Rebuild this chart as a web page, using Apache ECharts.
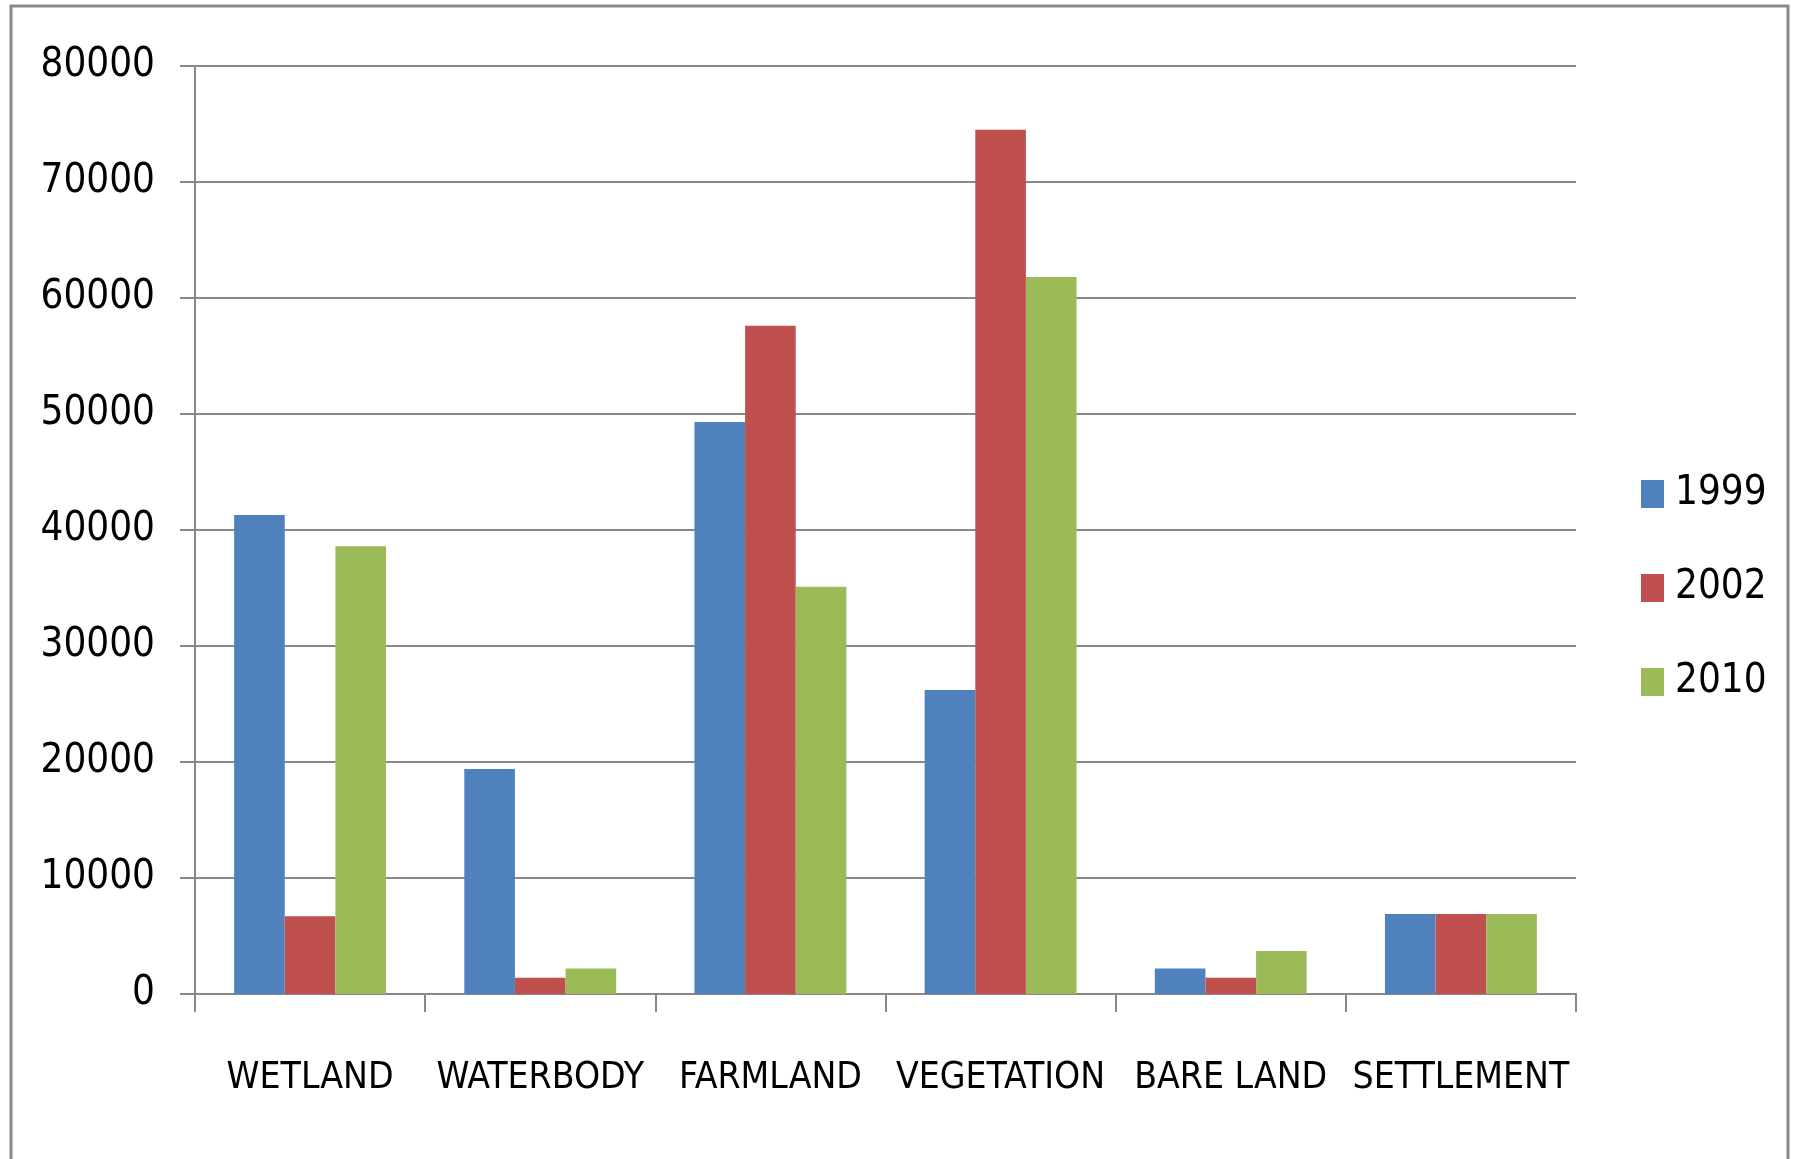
<!DOCTYPE html>
<html>
<head>
<meta charset="utf-8">
<script src="https://cdn.jsdelivr.net/npm/echarts@6/dist/echarts.min.js"></script>
<style>
  html, body { margin: 0; padding: 0; background: #fff; }
  #chart { width: 1803px; height: 1159px; }
</style>
</head>
<body>
<div id="chart"></div>
<script>
const categories = ['WETLAND', 'WATERBODY', 'FARMLAND', 'VEGETATION', 'BARE LAND', 'SETTLEMENT']
const years = ['1999', '2002', '2010']
const values1999 = [41300, 19400, 49300, 26200, 2200, 6900]
const values2002 = [6700, 1400, 57600, 74500, 1400, 6900]
const values2010 = [38600, 2200, 35100, 61800, 3700, 6900]
const yTicks = [0, 10000, 20000, 30000, 40000, 50000, 60000, 70000, 80000]

const colors = ['#4F81BD', '#C0504D', '#9BBB59']
const font = "'Liberation Sans Narrow', 'DejaVu Sans Condensed', sans-serif"
const seriesData = [values1999, values2002, values2010]

const chart = echarts.init(document.getElementById('chart'))
chart.setOption({
  animation: false,
  color: colors,
  textStyle: { fontFamily: font },
  graphic: [
    {
      // outer frame
      type: 'rect',
      shape: { x: 11, y: 6, width: 1777, height: 1200 },
      style: { fill: 'none', stroke: '#8a8a8a', lineWidth: 3 }
    }
  ],
  grid: {
    left: 195,
    top: 66,
    width: 1381,
    height: 928,
    containLabel: false
  },
  legend: {
    orient: 'vertical',
    left: 1641,
    top: 474,
    padding: 0,
    itemWidth: 23,
    itemHeight: 28,
    itemGap: 54,
    itemStyle: { borderWidth: 0 },
    icon: 'rect',
    textStyle: { fontSize: 40, color: '#000', fontFamily: font, padding: [0, 0, 0, 6] },
    data: years
  },
  xAxis: {
    type: 'category',
    data: categories,
    axisLine: { lineStyle: { color: '#888', width: 2 } },
    axisTick: { show: true, length: 18, lineStyle: { color: '#888', width: 2 } },
    axisLabel: { fontSize: 37, color: '#000', margin: 66, fontFamily: font, interval: 0 }
  },
  yAxis: {
    type: 'value',
    min: yTicks[0],
    max: yTicks[yTicks.length - 1],
    interval: 10000,
    axisLine: { show: true, lineStyle: { color: '#888', width: 2 } },
    axisTick: { show: true, length: 15, lineStyle: { color: '#888', width: 2 } },
    splitLine: { lineStyle: { color: '#888', width: 2 } },
    axisLabel: { fontSize: 40, color: '#000', margin: 40, fontFamily: font, formatter: v => String(v) }
  },
  series: years.map((y, i) => ({
    name: y,
    type: 'bar',
    data: seriesData[i],
    barGap: '0%',
    barCategoryGap: '34%'
  }))
})
</script>
</body>
</html>
